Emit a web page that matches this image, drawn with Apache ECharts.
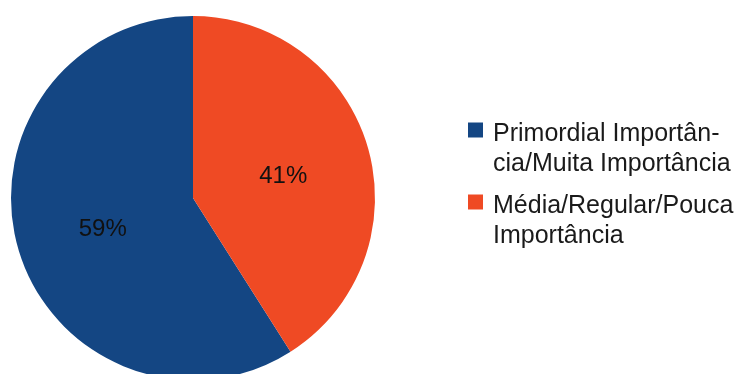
<!DOCTYPE html>
<html>
<head>
<meta charset="utf-8">
<script src="https://cdn.jsdelivr.net/npm/echarts@6/dist/echarts.min.js"></script>
<style>
  html, body { margin: 0; padding: 0; background: #ffffff; }
  #chart { width: 738px; height: 374px; }
</style>
</head>
<body>
<div id="chart"></div>
<script>
// Categories, their share (%) and the wrapped legend text
const categories = ['Primordial Importância/Muita Importância', 'Média/Regular/Pouca Importância'];
const shares = [59, 41];
const legendLines = [
  ['Primordial Importân-', 'cia/Muita Importância'],
  ['Média/Regular/Pouca', 'Importância']
];
const sliceColors = ['#144683', '#EF4A24'];

const chart = echarts.init(document.getElementById('chart'), null, { renderer: 'canvas' });

const font = 'Liberation Sans, Arial, sans-serif';

// A spacer line above the label keeps the square level with the first text line
function legendFormatter(i) {
  return () => '{s| }\n' + legendLines[i].map(l => '{t|' + l + '}').join('\n');
}

function makeLegend(i, top) {
  return {
    data: [categories[i]],
    orient: 'vertical',
    left: 468,
    top: top,
    padding: 0,
    icon: 'rect',
    itemWidth: 15,
    itemHeight: 15,
    selectedMode: false,
    formatter: legendFormatter(i),
    textStyle: {
      color: '#1a1a1a',
      fontFamily: font,
      fontSize: 25,
      padding: [0, 0, 0, 5],
      rich: {
        s: { fontSize: 10, lineHeight: 39 },
        t: { fontSize: 25, lineHeight: 30, color: '#1a1a1a', fontFamily: font }
      }
    }
  };
}

chart.setOption({
  animation: false,
  color: sliceColors,
  legend: [makeLegend(0, 95), makeLegend(1, 167)],
  series: [{
    type: 'pie',
    center: [193, 198],
    radius: 182,
    startAngle: 90,
    clockwise: false,
    silent: true,
    itemStyle: { borderWidth: 0 },
    label: {
      show: true,
      position: 'inside',
      // small spacer line nudges the percentage slightly below the slice midpoint
      formatter: '{s| }\n{v|{c}%}',
      rich: {
        s: { fontSize: 8, lineHeight: 10 },
        v: { color: '#111111', fontFamily: font, fontSize: 24, lineHeight: 28 }
      }
    },
    labelLine: { show: false },
    data: categories.map((name, i) => ({ name: name, value: shares[i] }))
  }]
});
</script>
</body>
</html>
